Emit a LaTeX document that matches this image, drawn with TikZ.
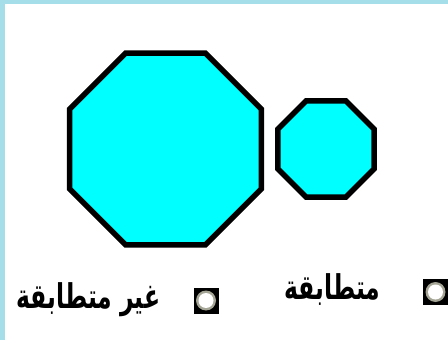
\documentclass[tikz,border=0pt]{standalone}
\usepackage{fontspec}
\newfontfamily\arabicfont[Script=Arabic]{DejaVu Sans}
\TeXXeTstate=1
\definecolor{frameblue}{RGB}{165,222,232}
\definecolor{octfill}{RGB}{0,255,255}
\definecolor{ringgray}{RGB}{165,165,150}
\newcommand{\tallar}[1]{\scalebox{1}[1.45]{\arabicfont\bfseries\fontsize{23.5}{26}\selectfont\beginR #1\endR}}
\begin{document}
\begin{tikzpicture}[x=1pt,y=-1pt,
  oct/.style={draw=black,fill=octfill,line width=5.5pt,line join=miter},
  radio/.style={fill=black,minimum width=25pt,minimum height=26pt,inner sep=0pt,draw=none},
  lbl/.style={inner sep=0pt}]
\useasboundingbox (0,0) rectangle (448,340);
\fill[frameblue] (0,0) rectangle (448,340);
\fill[white] (5,4) rectangle (448,340);
% big octagon
\begin{scope}[shift={(165.5,149)}]
\draw[oct] (22.5:103.9) -- (67.5:103.9) -- (112.5:103.9) -- (157.5:103.9) -- (202.5:103.9) -- (247.5:103.9) -- (292.5:103.9) -- (337.5:103.9) -- cycle;
\end{scope}
% small octagon
\begin{scope}[shift={(326,149)}]
\draw[oct] (22.5:52) -- (67.5:52) -- (112.5:52) -- (157.5:52) -- (202.5:52) -- (247.5:52) -- (292.5:52) -- (337.5:52) -- cycle;
\end{scope}
% radio buttons
\node[radio] (r1) at (435.5,292) {};
\node[radio] (r2) at (206,300.5) {};
\foreach \r in {r1,r2} {
  \fill[ringgray] (\r.center) circle (10pt);
  \fill[white] (\r.center) circle (7.5pt);
}
% labels
\node[lbl] (t1) at (332.5,290) {\tallar{متطابقة}};
\node[lbl] (t2) at (88.5,300) {\tallar{غير متطابقة}};
\end{tikzpicture}
\end{document}
